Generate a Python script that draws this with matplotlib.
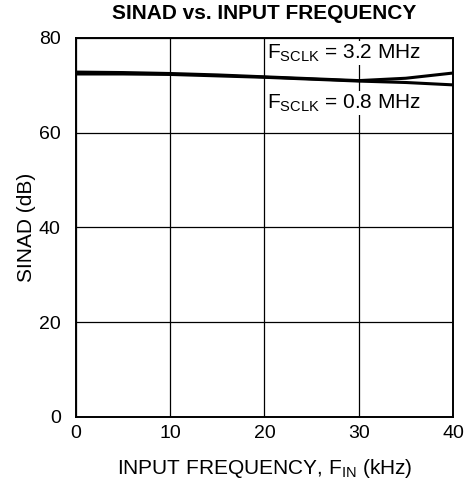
import numpy as np
import matplotlib
matplotlib.use('Agg')
import matplotlib.pyplot as plt

plt.rcParams['font.family'] = ['Liberation Sans', 'DejaVu Sans']

# input frequency (kHz) and SINAD (dB) for the two serial clock rates
fin = [0, 5, 10, 15, 20, 25, 30, 35, 40]
sinad_3p2 = [72.8, 72.7, 72.5, 72.2, 71.8, 71.4, 71.0, 71.5, 72.6]
sinad_0p8 = [72.4, 72.4, 72.3, 72.0, 71.7, 71.3, 70.9, 70.6, 70.1]

xticks = [0, 10, 20, 30, 40]
yticks = [0, 20, 40, 60, 80]

fig = plt.figure(figsize=(4.66, 4.87), dpi=100)
ax = fig.add_axes([0.163, 0.144, 0.809, 0.778])

ax.plot(fin, sinad_3p2, color='black', lw=2.2, solid_capstyle='butt')
ax.plot(fin, sinad_0p8, color='black', lw=2.2, solid_capstyle='butt')

ax.set_xlim(0, 40)
ax.set_ylim(0, 80)
ax.set_xticks(xticks)
ax.set_yticks(yticks)
ax.tick_params(length=0, labelsize=14)
ax.tick_params(axis='y', pad=11)
ax.tick_params(axis='x', pad=6)
ax.grid(True, color='black', lw=0.9)
for s in ax.spines.values():
    s.set_linewidth(1.4)

box = dict(facecolor='white', edgecolor='none', pad=1)
ax.text(20.3, 76.8, r'F$_{\mathregular{SCLK}}$ = 3.2 MHz', fontsize=15, va='center', ha='left', bbox=box)
ax.text(20.3, 66.3, r'F$_{\mathregular{SCLK}}$ = 0.8 MHz', fontsize=15, va='center', ha='left', bbox=box)

ax.set_title('SINAD vs. INPUT FREQUENCY', fontsize=15, fontweight='bold', pad=14)
ax.set_xlabel(r'INPUT FREQUENCY, F$_{\mathregular{IN}}$ (kHz)', fontsize=15, labelpad=11)
ax.set_ylabel('SINAD (dB)', fontsize=15, labelpad=2)

fig.savefig('out.png', dpi=100)
